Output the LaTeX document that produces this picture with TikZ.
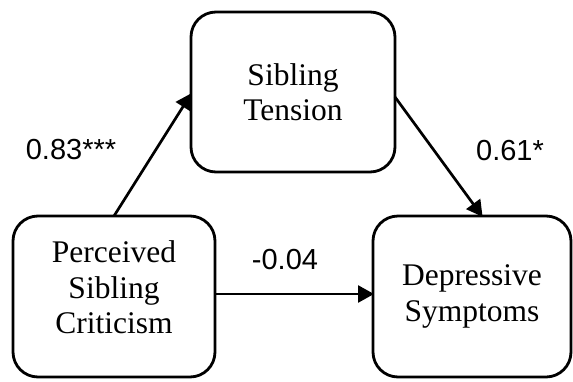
\documentclass[tikz,border=0pt]{standalone}
\usepackage{fontspec}
\setmainfont{Liberation Serif}
\newfontfamily\labelfont{Liberation Sans}
\usetikzlibrary{arrows.meta}
\begin{document}
\begin{tikzpicture}[x=1pt,y=-1pt,
  varbox/.style={draw=black, line width=2.8pt, rounded corners=25pt, align=center,
    inner sep=0pt, outer sep=0pt, fill=white,
    font=\fontsize{31.5}{35.5}\selectfont},
  conn/.style={line width=2.7pt, -{Triangle[length=16pt,width=17pt]}, shorten >=-1pt},
  coef/.style={font=\labelfont\fontsize{29}{33}\selectfont, inner sep=0pt}]
\useasboundingbox[fill=white] (0,0) rectangle (573,381);
\node[varbox, minimum width=204pt, minimum height=160pt] (sib) at (293,92) {Sibling\\Tension};
\node[varbox, minimum width=202pt, minimum height=161pt, text depth=18pt] (per) at (114,296.5) {Perceived\\Sibling\\Criticism};
\node[varbox, minimum width=198pt, minimum height=161pt] (dep) at (472,296.5) {Depressive\\Symptoms};
\draw[conn] (per.north) -- ([yshift=-2pt]sib.west);
\draw[conn] ([yshift=-5pt]sib.east) -- ([xshift=10pt]dep.north);
\draw[conn] ([yshift=2.5pt]per.east) -- ([yshift=2.5pt]dep.west);
\node[coef] (c1) at (71,150) {0.83***};
\node[coef] (c2) at (510,151) {0.61*};
\node[coef] (c3) at (285,260) {-0.04};
\end{tikzpicture}
\end{document}
